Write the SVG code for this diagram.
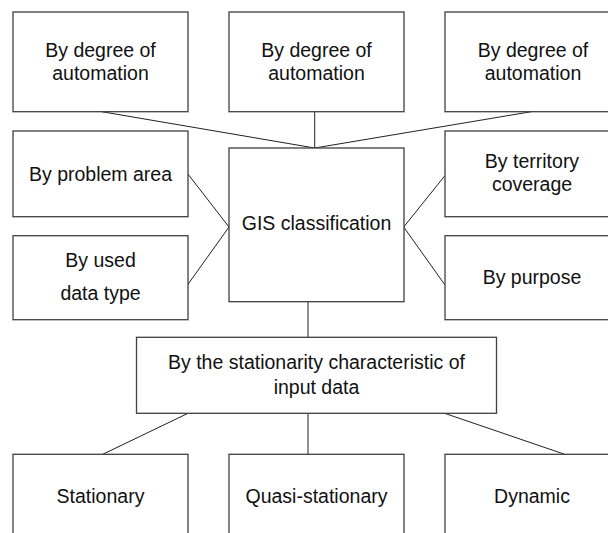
<svg xmlns="http://www.w3.org/2000/svg" width="608" height="533" viewBox="0 0 608 533">
<style>
.box{fill:#fff;stroke:#404040;stroke-width:1.3}
.t{font-family:"Liberation Sans",Arial,sans-serif;font-size:19.5px;fill:#111;text-anchor:middle}
.c{stroke:#222;stroke-width:1;fill:none}
</style>
<rect width="608" height="533" fill="#fff"/>
<g id="connectors">
<line class="c" x1="101.7" y1="111.7" x2="314.7" y2="148"/>
<line class="c" x1="314.7" y1="111.7" x2="314.7" y2="148"/>
<line class="c" x1="531.3" y1="111.7" x2="314.7" y2="148"/>
<line class="c" x1="187.5" y1="173.5" x2="229" y2="227"/>
<line class="c" x1="187.5" y1="285" x2="229" y2="227"/>
<line class="c" x1="445" y1="175.5" x2="403.7" y2="227"/>
<line class="c" x1="445" y1="285" x2="403.7" y2="227"/>
<line class="c" x1="308" y1="301.7" x2="308" y2="337.3"/>
<line class="c" x1="188" y1="413.3" x2="102.7" y2="454.3"/>
<line class="c" x1="308" y1="413.3" x2="308" y2="454.3"/>
<line class="c" x1="444.6" y1="413.3" x2="564.7" y2="454.3"/>
</g>
<g id="auto1"><rect class="box" x="13" y="12" width="175" height="99.7"/><text class="t" x="100.5" y="56.7">By degree of</text><text class="t" x="100.5" y="80">automation</text></g>
<g id="auto2"><rect class="box" x="229" y="12" width="175" height="99.7"/><text class="t" x="316.5" y="56.7">By degree of</text><text class="t" x="316.5" y="80">automation</text></g>
<g id="auto3"><rect class="box" x="445" y="12" width="175" height="99.7"/><text class="t" x="533" y="56.7">By degree of</text><text class="t" x="533" y="80">automation</text></g>
<g id="problem"><rect class="box" x="13" y="131" width="175" height="85.7"/><text class="t" x="100.5" y="181">By problem area</text></g>
<g id="territory"><rect class="box" x="445" y="131" width="175" height="85.7"/><text class="t" x="532" y="168.3">By territory</text><text class="t" x="532" y="191">coverage</text></g>
<g id="gis"><rect class="box" x="229" y="148" width="175" height="153.7"/><text class="t" x="316.5" y="230">GIS classification</text></g>
<g id="datatype"><rect class="box" x="13" y="235.7" width="175" height="84"/><text class="t" x="100.5" y="266.7">By used</text><text class="t" x="100.5" y="300">data type</text></g>
<g id="purpose"><rect class="box" x="445" y="235.7" width="175" height="84"/><text class="t" x="532" y="284">By purpose</text></g>
<g id="stationarity"><rect class="box" x="136.5" y="337.3" width="360" height="76"/><text class="t" x="316.5" y="368.5">By the stationarity characteristic of</text><text class="t" x="316.5" y="394.3">input data</text></g>
<g id="stationary"><rect class="box" x="13" y="454.3" width="175" height="100"/><text class="t" x="100.5" y="503.3">Stationary</text></g>
<g id="quasi"><rect class="box" x="229" y="454.3" width="175" height="100"/><text class="t" x="316.5" y="503.3">Quasi-stationary</text></g>
<g id="dynamic"><rect class="box" x="445" y="454.3" width="175" height="100"/><text class="t" x="532" y="503.3">Dynamic</text></g>
</svg>
